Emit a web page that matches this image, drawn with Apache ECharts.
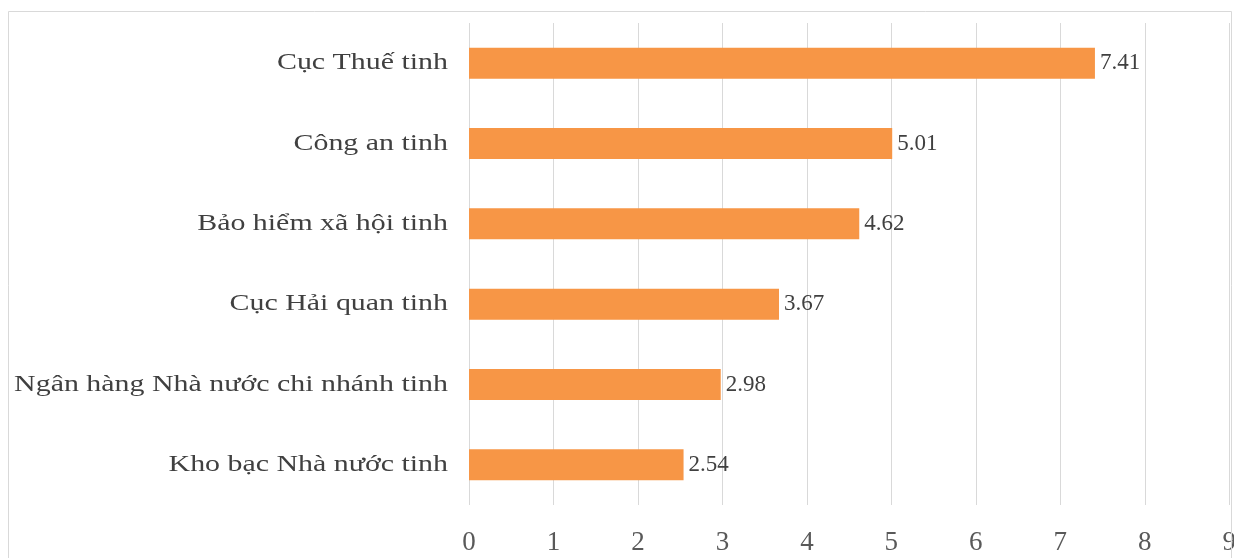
<!DOCTYPE html>
<html>
<head>
<meta charset="utf-8">
<script src="https://cdn.jsdelivr.net/npm/echarts@6/dist/echarts.min.js"></script>
<style>
html,body{margin:0;padding:0;background:#fff;}
#chart{width:1239px;height:558px;}
</style>
</head>
<body>
<div id="chart"></div>
<script>
const categories = [
  "Cục Thuế tinh",
  "Công an tinh",
  "Bảo hiểm xã hội tinh",
  "Cục Hải quan tinh",
  "Ngân hàng Nhà nước chi nhánh tinh",
  "Kho bạc Nhà nước tinh"
];
const values = [7.41, 5.01, 4.62, 3.67, 2.98, 2.54];
const valueLabels = ["7.41", "5.01", "4.62", "3.67", "2.98", "2.54"];

const chart = echarts.init(document.getElementById('chart'), null, {renderer: 'canvas'});
const frame = [
  {type: 'rect', id: 'cover', left: 1234, top: 0, z: 100, shape: {width: 10, height: 558}, style: {fill: '#ffffff'}},
  {type: 'rect', id: 'frame', z: 101, shape: {x: 8.5, y: 11.5, width: 1223, height: 600}, style: {fill: 'none', stroke: '#d9d9d9', lineWidth: 1}}
];
chart.setOption({
  animation: false,
  backgroundColor: '#ffffff',
  grid: {left: 469, right: 9, top: 23, bottom: 53, containLabel: false},
  xAxis: {
    type: 'value',
    min: 0, max: 9, interval: 1,
    axisLine: {show: false},
    axisTick: {show: false},
    splitLine: {show: true, lineStyle: {color: '#d9d9d9', width: 1}},
    axisLabel: {
      color: '#595959', fontFamily: 'Liberation Serif', fontSize: 27, margin: 24,
      showMaxLabel: true
    }
  },
  yAxis: {
    type: 'category',
    data: categories,
    inverse: true,
    axisLine: {show: false},
    axisTick: {show: false},
    splitLine: {show: false},
    axisLabel: {show: false}
  },
  series: [{
    type: 'bar',
    data: values,
    barWidth: 31,
    itemStyle: {color: '#F79646'},
    label: {
      show: true, position: 'right', distance: 5,
      color: '#404040', fontFamily: 'Liberation Serif', fontSize: 23,
      formatter: p => valueLabels[p.dataIndex]
    }
  }],
  graphic: frame
});

// Category labels: real text placed at the category axis positions, widened like the original
const labelRight = chart.convertToPixel({xAxisIndex: 0}, 0) - 21;
const catLabels = categories.map((c, i) => ({
  type: 'text',
  id: 'cat' + i,
  x: labelRight,
  y: chart.convertToPixel({yAxisIndex: 0}, c),
  scaleX: 1.3,
  z: 50,
  style: {
    text: c,
    fill: '#404040',
    font: '23px "Liberation Serif"',
    textAlign: 'right',
    textVerticalAlign: 'middle'
  }
}));
chart.setOption({graphic: frame.concat(catLabels)});
</script>
</body>
</html>
